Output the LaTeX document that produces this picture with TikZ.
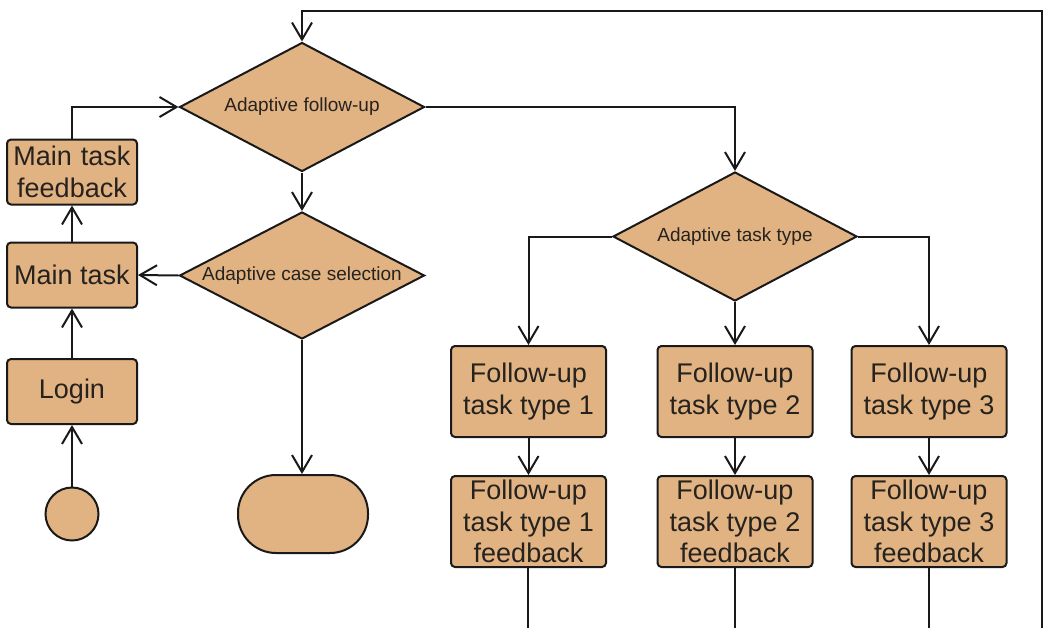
\documentclass[tikz,border=0pt]{standalone}
\usepackage{fontspec}
\setmainfont{Liberation Sans}
\usetikzlibrary{shapes.geometric,arrows.meta}
\definecolor{tanfill}{RGB}{225,179,131}
\definecolor{txtcol}{RGB}{38,34,30}
\definecolor{linecol}{RGB}{25,25,25}
\begin{document}
\begin{tikzpicture}[x=1pt,y=-1pt,
  boxnode/.style={draw=linecol, fill=tanfill, line width=2pt, rounded corners=4pt, inner sep=0pt,
    align=center, text=txtcol, font=\fontsize{27}{31.5}\selectfont},
  mainbox/.style={boxnode, minimum width=130pt, minimum height=65pt},
  fubox/.style={boxnode, minimum width=155pt, minimum height=91pt},
  decision/.style={diamond, draw=linecol, fill=tanfill, line width=2pt, inner sep=0pt, aspect=1.9,
    minimum width=245pt, minimum height=129pt, text=txtcol, font=\fontsize{19}{22}\selectfont},
  startnode/.style={circle, draw=linecol, fill=tanfill, line width=2pt, minimum size=53pt, inner sep=0pt},
  endnode/.style={draw=linecol, fill=tanfill, line width=2pt, rounded corners=38pt, minimum width=130pt, minimum height=78pt, inner sep=0pt},
  conn/.style={draw=linecol, line width=2pt},
  arr/.style={conn, -{Straight Barb[length=17pt,width=20pt]}}
]
\useasboundingbox (0,0) rectangle (1046,627);
\begin{scope}
\clip (0,0) rectangle (1046,627);
% left column
\node[startnode] (start) at (72,514) {};
\node[mainbox] (login) at (72,391.5) {Login};
\node[mainbox] (main) at (72,275) {Main task};
\node[mainbox, text width=130pt] (mainfb) at (72,172) {Main task\\feedback};
% decisions
\node[decision] (afu) at (302,107) {Adaptive follow-up};
\node[decision, minimum height=127pt] (acs) at (302,275.5) {Adaptive case selection};
\node[endnode] (end) at (303,514) {};
\node[decision, minimum width=244pt] (att) at (735,236.5) {Adaptive task type};
% follow-up boxes
\node[fubox] (f1) at (528.5,391.5) {Follow-up\\task type 1};
\node[fubox] (f2) at (735,391.5) {Follow-up\\task type 2};
\node[fubox] (f3) at (929,391.5) {Follow-up\\task type 3};
\node[fubox] (fb1) at (528.5,521.5) {Follow-up\\task type 1\\feedback};
\node[fubox] (fb2) at (735,521.5) {Follow-up\\task type 2\\feedback};
\node[fubox] (fb3) at (929,521.5) {Follow-up\\task type 3\\feedback};
% loose ends below the picture
\coordinate (e1) at (528,640);
\coordinate (e2) at (735,640);
\coordinate (e3) at (929,640);
\coordinate (eloop) at (1042,640);
% connectors
\draw[arr] (start.north) -- (login.south);
\draw[arr] (login.north) -- (main.south);
\draw[arr] (main.north) -- (mainfb.south);
\draw[arr] (mainfb.north) |- (afu.west);
\draw[arr] (afu.south) -- (acs.north);
\draw[arr] (acs.west) -- (main.east);
\draw[arr] (acs.south) -- (end.north -| acs.south);
\draw[arr] (afu.east) -| (att.north);
\draw[arr] (att.west) -| (f1.north);
\draw[arr] (att.south) -- (f2.north);
\draw[arr] (att.east) -| (f3.north);
\draw[arr] (f1.south) -- (fb1.north);
\draw[arr] (f2.south) -- (fb2.north);
\draw[arr] (f3.south) -- (fb3.north);
\draw[conn] (fb1.south -| e1) -- (e1);
\draw[conn] (fb2.south) -- (e2);
\draw[conn] (fb3.south) -- (e3);
\draw[arr] (eloop) -- (1042,11) -- (302,11) -- (afu.north);
\end{scope}
\end{tikzpicture}
\end{document}
